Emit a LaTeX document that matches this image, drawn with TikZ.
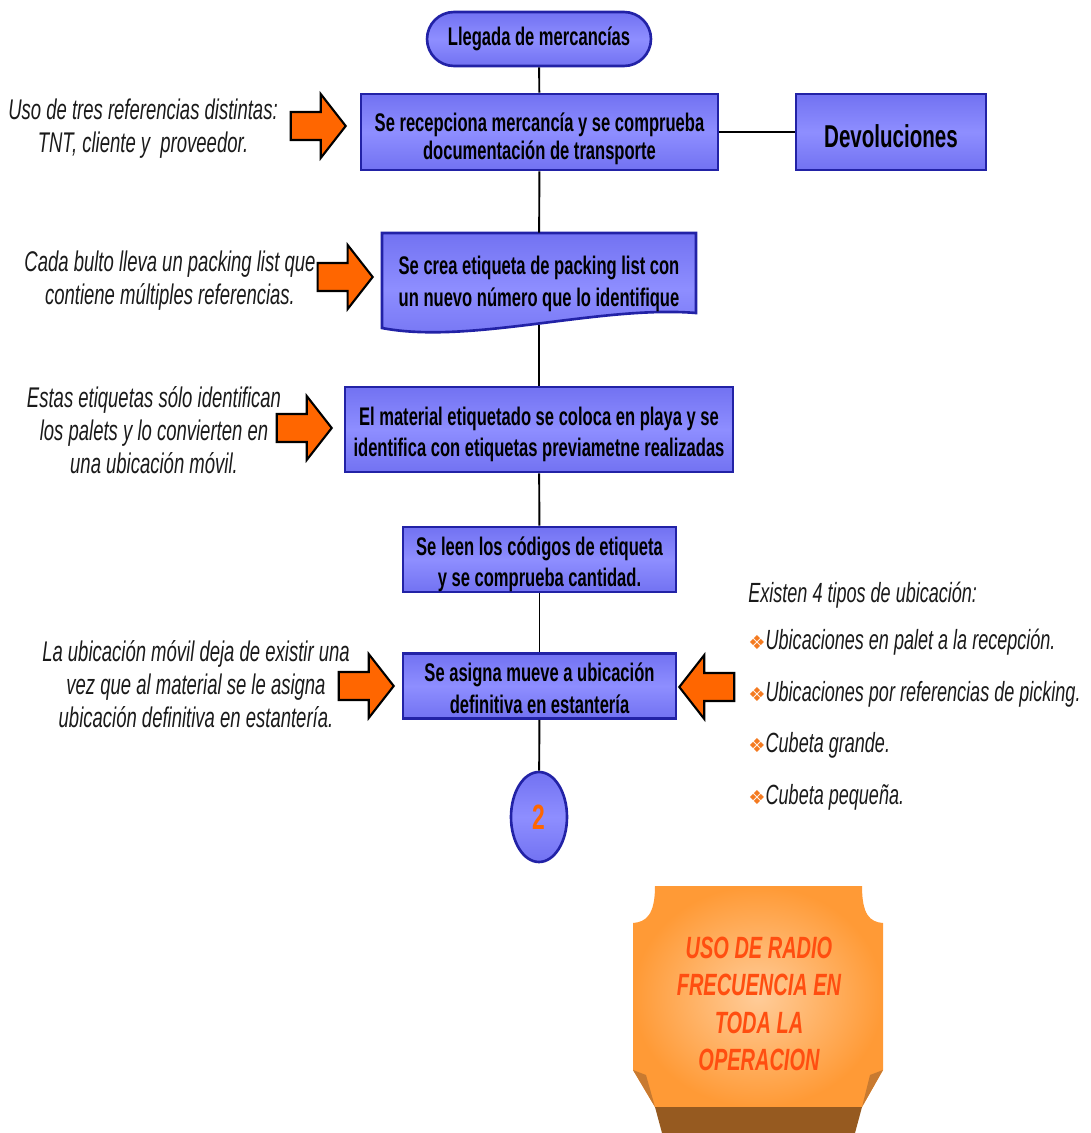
\documentclass[tikz,border=0pt]{standalone}
\usepackage{fontspec}
\setmainfont{Liberation Sans}[FakeStretch=0.65]
\newfontfamily\symbfont{DejaVu Sans}
\usetikzlibrary{positioning,calc,shapes.geometric}

\definecolor{boxmid}{HTML}{8E8EFF}
\definecolor{boxedge}{HTML}{7272F2}
\definecolor{boxline}{HTML}{2222A6}
\definecolor{arrorange}{HTML}{FF6600}
\definecolor{notegray}{HTML}{1A1A1A}
\definecolor{plaquein}{HTML}{FFCC99}
\definecolor{plaqueout}{HTML}{FF9A36}
\definecolor{plaqueflap}{HTML}{C87A30}
\definecolor{plaquebase}{HTML}{965A20}
\definecolor{plaquetext}{HTML}{FF4E10}
\definecolor{bulletorange}{HTML}{F47A20}

\newcommand\ubibullet{{\symbfont\fontsize{11}{12}\selectfont\color{bulletorange}\char"2756}}

\tikzset{
  rarrow/.pic={\draw[line width=1.2pt,fill=arrorange,line join=miter]
    (0,0) -- (-25,-32) -- (-25,-14) -- (-55,-14) -- (-55,14) -- (-25,14) -- (-25,32) -- cycle;}
}

\begin{document}
\begin{tikzpicture}[x=0.02cm,y=-0.02cm,
proctext/.style={font=\bfseries\fontsize{14.5}{18}\selectfont,align=center,inner sep=0pt},
twoline/.style={text height=34pt,text depth=3pt},
proc/.style={proctext,draw=boxline,line width=1.5pt,top color=boxedge,bottom color=boxedge,middle color=boxmid},
note/.style={font=\itshape\fontsize{16.2}{18.8}\selectfont,text=notegray,align=center},
flow/.style={line width=1.1pt}]

\useasboundingbox (0,0) rectangle (1090,1133);

% document shape behind the packing list step
\path[draw=boxline,line width=1.5pt,top color=boxedge,bottom color=boxedge,middle color=boxmid]
  (382,233) -- (696,233) -- (696,313) .. controls (600,305) and (470,345) .. (382,328) -- cycle;

\node[proc,rounded corners=0.54cm,minimum width=4.48cm,minimum height=1.08cm] (start) at (539,39) {Llegada de mercancías};
\node[proc,twoline,minimum width=7.14cm,minimum height=1.52cm,font=\bfseries\fontsize{14.5}{16}\selectfont] (recep) at (539.5,132) {Se recepciona mercancía y se comprueba\\documentación de transporte};
\node[proc,minimum width=3.8cm,minimum height=1.52cm,text height=18pt,text depth=0pt,
  font=\bfseries\fontsize{18}{22}\selectfont] (devol) at (891,132) {Devoluciones};
\node[proctext,twoline,minimum width=6.28cm,minimum height=1.84cm] (etiq) at (539,279) {Se crea etiqueta de packing list con\\un nuevo número que lo identifique};
\node[proc,twoline,minimum width=7.76cm,minimum height=1.7cm] (playa) at (539,429.5) {El material etiquetado se coloca en playa y se\\identifica con etiquetas previametne realizadas};
\node[proc,twoline,minimum width=5.46cm,minimum height=1.3cm] (leen) at (539.5,559.5) {Se leen los códigos de etiqueta\\y se comprueba cantidad.};
\node[proc,twoline,minimum width=5.46cm,minimum height=1.28cm] (asigna) at (539.5,686) {Se asigna mueve a ubicación\\definitiva en estantería};
\node[proc,ellipse,minimum width=1.12cm,minimum height=1.8cm,text=arrorange,
  font=\bfseries\fontsize{20}{24}\selectfont] (dos) at (539,817) {2};

\foreach \a/\b in {start/recep,recep/etiq,etiq/playa,playa/leen,leen/asigna,asigna/dos,recep/devol}
  \draw[flow] (\a) -- (\b);

% orange arrows
\pic at ($(recep.west)+(-14,-6)$) {rarrow};
\pic at ($(etiq.west)+(-9,-2)$) {rarrow};
\pic at ($(playa.west)+(-12,-1.5)$) {rarrow};
\pic at ($(asigna.west)+(-8,0)$) {rarrow};
\pic[xscale=-1] at ($(asigna.east)+(2,1)$) {rarrow};

% notes
\node[note] (uso) at (143,129) {Uso de tres referencias distintas:\\TNT, cliente y\ \ proveedor.};
\node[note] (bulto) at (170,281) {Cada bulto lleva un packing list que\\contiene múltiples referencias.};
\node[note] (palets) at (154,430) {Estas etiquetas sólo identifican\\los palets y lo convierten en\\una ubicación móvil.};
\node[note] (movil) at (196,684) {La ubicación móvil deja de existir una\\vez que al material se le asigna\\ubicación definitiva en estantería.};
\node[note,align=left,anchor=north west,inner sep=0pt,font=\itshape\fontsize{15.8}{18.8}\selectfont] (tipos) at (748,582) {Existen 4 tipos de ubicación:\\[8pt]
  \ubibullet Ubicaciones en palet a la recepción.\\[10.5pt]
  \ubibullet Ubicaciones por referencias de picking.\\[10.5pt]
  \ubibullet Cubeta grande.\\[10.5pt]
  \ubibullet Cubeta pequeña.};

% plaque
\shade[inner color=plaquein,outer color=plaqueout]
  (655,886) -- (862,886) .. controls (862,915) and (870,922) .. (883,923)
  -- (883,1070) -- (862,1107) -- (655,1107) -- (633,1070) -- (633,923)
  .. controls (646,922) and (655,915) .. (655,886) -- cycle;
\fill[plaqueflap] (883,1070) -- (870,1075) -- (862,1107) -- cycle;
\fill[plaqueflap] (633,1070) -- (646,1075) -- (655,1107) -- cycle;
\fill[plaquebase] (655,1107) -- (862,1107) -- (855,1133) -- (662,1133) -- cycle;
\node[align=center,text=plaquetext,font=\bfseries\itshape\fontsize{17.5}{21.4}\selectfont] (radio) at (759,1004) {USO DE RADIO\\FRECUENCIA EN\\TODA LA\\OPERACION};
\end{tikzpicture}
\end{document}
